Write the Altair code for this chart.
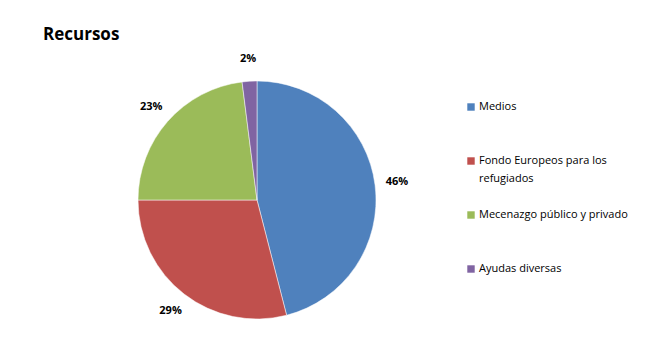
import altair as alt
import pandas as pd

categorias = ["Medios", "Fondo Europeos para los refugiados", "Mecenazgo público y privado", "Ayudas diversas"]
leyenda = ["Medios", "Fondo Europeos para los\nrefugiados", "Mecenazgo público y privado", "Ayudas diversas"]
valores = [46, 29, 23, 2]
etiquetas = ["46%", "29%", "23%", "2%"]
colores = ["#4F81BD", "#C0504D", "#9BBB59", "#8064A2"]

df = pd.DataFrame({
    "categoria": categorias, "leyenda": leyenda, "valor": valores,
    "etiqueta": etiquetas, "orden": list(range(len(categorias))),
})

cx, cy, r = 249, 192, 119

color = alt.Color("categoria:N", scale=alt.Scale(domain=categorias, range=colores), sort=categorias, legend=None)

base = alt.Chart(df).encode(
    theta=alt.Theta("valor:Q", stack=True),
    order=alt.Order("orden:Q"),
)

pie = base.mark_arc(radius=r, stroke="white", strokeWidth=0.5).encode(
    x=alt.value(cx), y=alt.value(cy), color=color,
)

labels = base.mark_text(radius=r + 22, font="Open Sans", fontSize=11, fontWeight="bold", color="#000000").encode(
    x=alt.value(cx), y=alt.value(cy),
    text="etiqueta:N",
)

ley_y = alt.Y("orden:Q", scale=alt.Scale(domain=[0, 3], range=[99, 261]), axis=None)

ley_sym = alt.Chart(df).mark_square(size=55, opacity=1).encode(
    x=alt.value(463), y=ley_y, color=color,
)

ley_txt = alt.Chart(df).mark_text(
    align="left", baseline="top", dy=-6, lineBreak="\n", lineHeight=18,
    font="Open Sans", fontSize=11, color="#000000",
).encode(
    x=alt.value(471), y=ley_y, text="leyenda:N",
)

chart = (pie + labels + ley_sym + ley_txt).properties(
    width=654, height=347,
    autosize=alt.AutoSizeParams(type="none"),
    padding=0,
    title=alt.TitleParams("Recursos", anchor="start", dx=35, dy=40, font="Open Sans", fontSize=17, fontWeight="bold", color="#000000"),
).configure_view(stroke=None)

chart.save("out.html", embed_options={"renderer": "svg", "actions": False})
